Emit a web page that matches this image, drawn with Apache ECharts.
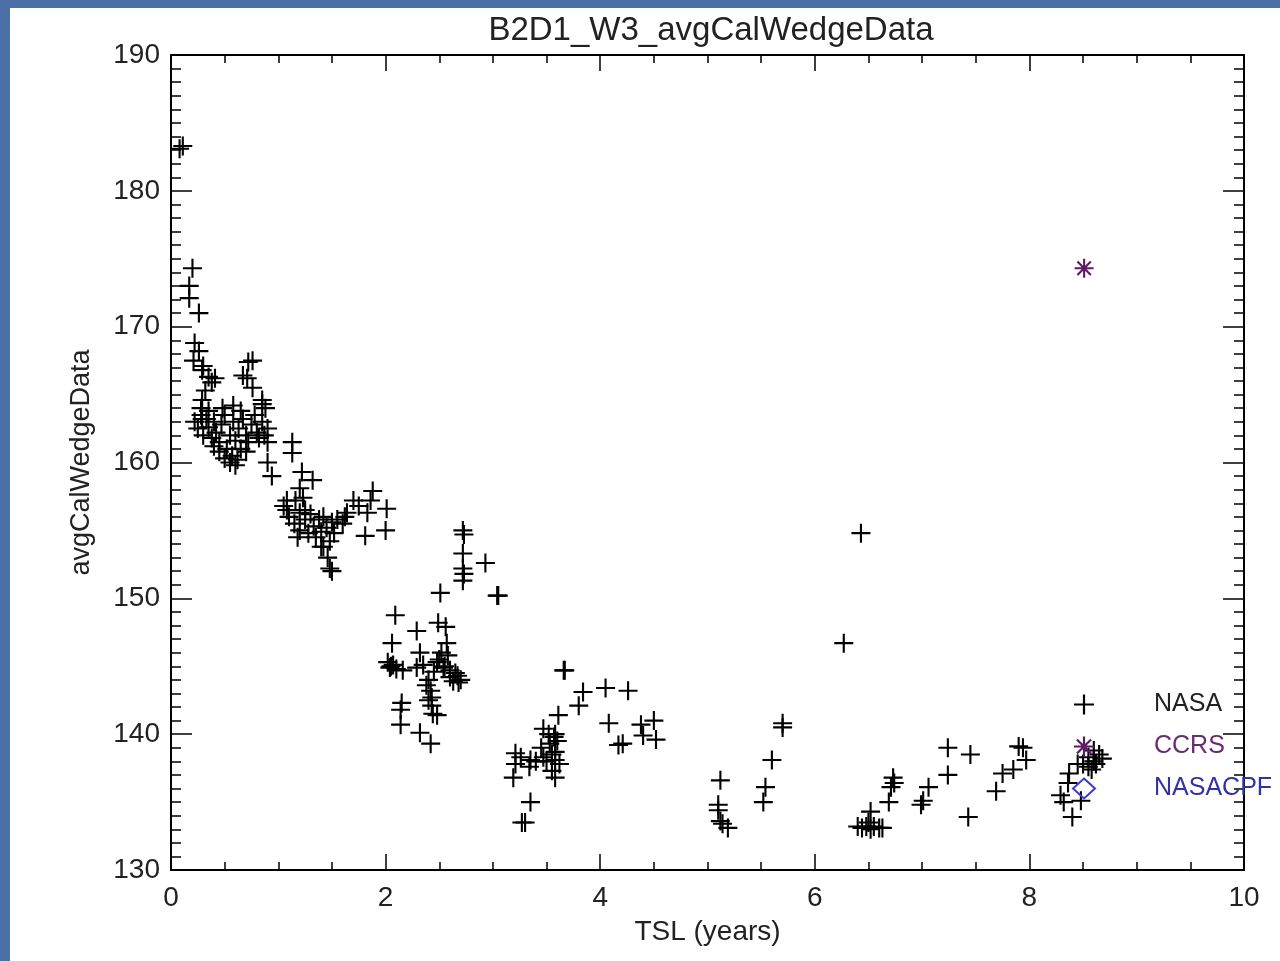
<!DOCTYPE html>
<html>
<head>
<meta charset="utf-8">
<script src="https://cdn.jsdelivr.net/npm/echarts@6/dist/echarts.min.js"></script>
<style>
  html, body { margin: 0; padding: 0; background: #4b6fa6; }
  #chart { width: 1280px; height: 961px; }
</style>
</head>
<body>
<div id="chart"></div>
<script>
// ---- data (TSL years, avgCalWedgeData) ----
const chartTitle = 'B2D1_W3_avgCalWedgeData';
const xName = 'TSL (years)';
const yName = 'avgCalWedgeData';
const xTicks = [0, 2, 4, 6, 8, 10];
const yTicks = [130, 140, 150, 160, 170, 180, 190];
const seriesNames = ['NASA', 'CCRS', 'NASACPF'];

const nasaEarly = [
  [0.08,183.1],[0.11,183.3],[0.20,174.3],[0.17,173.0],[0.17,172.1],[0.26,171.0],
  [0.22,168.8],[0.26,168.2],[0.21,167.5],[0.30,167.1],[0.35,166.3],[0.41,166.2],
  [0.29,166.8],[0.38,165.9],[0.32,165.3],[0.29,164.6],[0.72,167.4],[0.76,167.5],
  [0.67,166.4],[0.71,166.2],[0.76,165.5],[0.85,164.6],[0.88,164.0],[0.85,164.3],
  [0.29,163.2],[0.90,160.0],[0.94,159.0],
  [0.22,163.0],[0.25,162.5],[0.28,163.5],[0.30,162.0],[0.33,163.2],[0.35,162.6],
  [0.38,161.8],[0.40,163.0],[0.42,162.2],[0.45,161.5],[0.47,162.8],[0.50,163.5],
  [0.52,161.0],[0.55,162.0],[0.57,160.5],[0.58,163.0],[0.60,161.6],[0.62,160.2],
  [0.63,162.5],[0.65,161.0],[0.67,163.2],[0.70,162.0],[0.72,161.5],[0.75,162.8],
  [0.78,163.5],[0.80,162.2],[0.82,161.8],[0.85,163.0],[0.87,162.0],[0.90,162.5],
  [0.90,161.5],[0.55,160.0],[0.60,159.8],[0.50,160.3],[0.45,160.8],[0.35,163.8],
  [0.28,164.0],[0.48,164.0],[0.58,164.2],[0.65,163.8],[0.70,160.8],[0.40,161.2]
];
const nasaYear1 = [
  [1.13,161.5],[1.13,160.7],[1.22,159.3],[1.32,158.7],[1.20,158.1],[1.08,157.2],
  [1.16,157.2],[1.23,157.4],[1.08,156.5],[1.20,156.3],[1.05,156.8],[1.10,156.0],
  [1.15,155.5],[1.20,155.0],[1.25,155.8],[1.28,154.8],[1.30,156.2],[1.33,155.3],
  [1.35,154.5],[1.38,155.8],[1.40,154.9],[1.42,156.0],[1.45,155.2],[1.48,154.2],
  [1.50,155.6],[1.52,154.8],[1.55,155.8],[1.18,154.5],[1.25,156.5],[1.40,153.8],
  [1.42,153.8],[1.46,153.0],[1.50,152.0],[1.48,152.2],[1.88,157.9],[1.86,157.2],
  [1.70,157.2],[2.01,156.6],[1.83,156.3],[1.81,154.6],[2.00,155.0],[1.64,156.3],
  [1.60,155.5],[1.75,156.8],[1.62,156.0]
];
const nasaYear2 = [
  [2.09,148.75],[2.06,146.7],[2.29,147.6],[2.49,148.2],[2.56,147.9],[2.57,146.7],
  [2.32,146.0],[2.51,150.4],[2.02,145.3],[2.07,145.1],[2.04,144.9],[2.16,144.7],
  [2.29,144.9],[2.35,145.1],[2.48,145.3],[2.54,144.9],[2.60,144.7],[2.67,144.3],
  [2.68,143.8],[2.40,144.0],[2.42,143.2],[2.43,142.7],[2.43,142.1],[2.15,142.3],
  [2.14,141.8],[2.48,141.4],[2.14,140.7],[2.32,140.1],[2.42,139.3],[2.05,145.0],
  [2.10,144.8],[2.45,144.6],[2.50,145.5],[2.55,145.0],[2.60,144.2],[2.63,143.9],
  [2.65,144.5],[2.70,144.0],[2.38,143.6],[2.40,142.5],[2.44,141.5],[2.52,146.0],
  [2.58,145.8],
  [2.72,155.0],[2.73,154.7],[2.72,153.3],[2.93,152.6],[2.72,152.2],[2.72,151.3],
  [2.73,151.8],[3.04,150.2],[3.05,150.2]
];
const nasaYear3 = [
  [3.21,138.6],[3.26,138.3],[3.35,138.1],[3.34,137.6],[3.21,137.8],[3.19,136.8],
  [3.35,135.0],[3.27,133.5],[3.30,133.5],[3.47,140.4],[3.58,140.0],[3.53,139.3],
  [3.58,138.7],[3.47,138.3],[3.58,138.1],[3.55,137.3],[3.58,136.8],[3.61,141.4],
  [3.80,142.1],[3.66,144.7],[3.67,144.7],[3.84,143.1],[4.05,143.4],[4.26,143.2],
  [4.08,140.8],[4.38,140.7],[4.50,141.0],[4.52,139.6],[4.17,139.2],[4.21,139.3],
  [4.40,139.9],[3.45,139.0],[3.50,138.0],[3.55,138.5],[3.60,139.5],[3.62,137.8],
  [3.57,139.8],[3.52,140.0],[3.40,138.0]
];
const nasaYear5 = [
  [5.12,136.6],[5.10,134.8],[5.10,134.4],[5.12,133.6],[5.14,133.4],[5.19,133.1],
  [5.54,136.1],[5.52,135.0],[5.60,138.1],[5.70,140.5],[5.70,140.8],
  [6.43,154.8],[6.27,146.7]
];
const nasaYear6 = [
  [6.40,133.2],[6.44,133.1],[6.48,133.2],[6.52,133.0],[6.55,133.2],[6.60,133.1],
  [6.63,133.1],[6.52,134.3],[6.50,133.5],[6.73,136.8],[6.74,136.4],[6.71,136.1],
  [6.69,135.0],[7.01,135.1],[7.06,136.1],[6.99,134.8],[7.24,139.0],[7.24,137.0],
  [7.45,138.5],[7.43,133.9]
];
const nasaYear8 = [
  [7.90,139.1],[7.94,139.0],[7.97,138.1],[7.85,137.4],[7.75,137.1],[7.69,135.8],
  [8.37,137.1],[8.36,136.4],[8.29,135.5],[8.32,135.0],[8.40,133.9],[8.48,135.1],
  [8.45,137.8],[8.50,137.8],[8.55,138.3],[8.60,138.8],[8.62,137.8],[8.58,137.4],
  [8.65,138.5],[8.55,137.6],[8.68,138.2],[8.60,138.0]
];
const ccrsPoints = [[8.51,174.3]];
const nasacpfPoints = [];

const nasaPoints = [].concat(nasaEarly, nasaYear1, nasaYear2, nasaYear3, nasaYear5, nasaYear6, nasaYear8);

// ---- symbols ----
const plusPath = 'path://M-1,-9 L1,-9 L1,-1 L9,-1 L9,1 L1,1 L1,9 L-1,9 L-1,1 L-9,1 L-9,-1 L-1,-1 Z';
const starPath = 'path://M-1,-9 L1,-9 L1,9 L-1,9 Z M-9,-1 L9,-1 L9,1 L-9,1 Z ' +
  'M-5.66,-7.07 L7.07,5.66 L5.66,7.07 L-7.07,-5.66 Z M-7.07,5.66 L5.66,-7.07 L7.07,-5.66 L-5.66,7.07 Z';

const FONT = 'Liberation Sans';
const chart = echarts.init(document.getElementById('chart'));

const commonAxis = {
  axisLine: { show: true, onZero: false, lineStyle: { color: '#000', width: 2 } },
  splitLine: { show: false }
};

const option = {
  animation: false,
  backgroundColor: '#4b6fa6',
  graphic: [{
    type: 'rect', z: -100, silent: true,
    shape: { x: 10, y: 8, width: 1270, height: 953 },
    style: { fill: '#ffffff' }
  }],
  title: {
    text: chartTitle, left: 706, top: 9, textAlign: 'center',
    textStyle: { fontFamily: FONT, fontSize: 33, fontWeight: 'normal', color: '#222' }
  },
  legend: {
    orient: 'vertical', left: 1067, top: 687,
    itemWidth: 22, itemHeight: 20, itemGap: 17,
    data: [
      { name: 'NASA', textStyle: { color: '#222' } },
      { name: 'CCRS', textStyle: { color: '#6a2a6e' } },
      { name: 'NASACPF', textStyle: { color: '#3232a8' } }
    ],
    textStyle: { fontFamily: FONT, fontSize: 25, padding: [0, 0, 0, 54] }
  },
  grid: { left: 171, right: 36, top: 55, bottom: 91, containLabel: false },
  xAxis: [
    Object.assign({}, commonAxis, {
      type: 'value', position: 'bottom', min: 0, max: 10, interval: 2,
      name: xName, nameLocation: 'middle', nameGap: 48,
      nameTextStyle: { fontFamily: FONT, fontSize: 28, color: '#222' },
      axisTick: { show: true, inside: true, length: 16, lineStyle: { color: '#000', width: 1.5 } },
      minorTick: { show: true, splitNumber: 4, length: 8, lineStyle: { color: '#000', width: 1.5 } },
      axisLabel: { fontFamily: FONT, fontSize: 28, color: '#222', margin: 14,
        formatter: v => (xTicks.indexOf(v) >= 0 ? String(v) : '') }
    }),
    Object.assign({}, commonAxis, {
      type: 'value', position: 'top', min: 0, max: 10, interval: 2,
      axisTick: { show: true, inside: true, length: 16, lineStyle: { color: '#000', width: 1.5 } },
      minorTick: { show: true, splitNumber: 4, length: 8, lineStyle: { color: '#000', width: 1.5 } },
      axisLabel: { show: false }
    })
  ],
  yAxis: [
    Object.assign({}, commonAxis, {
      type: 'value', position: 'left', min: 130, max: 190, interval: 10,
      name: yName, nameLocation: 'middle', nameGap: 76, nameRotate: 90,
      nameTextStyle: { fontFamily: FONT, fontSize: 27, color: '#222' },
      axisTick: { show: true, inside: true, length: 21, lineStyle: { color: '#000', width: 1.5 } },
      minorTick: { show: true, splitNumber: 10, length: 10, lineStyle: { color: '#000', width: 1.5 } },
      axisLabel: { fontFamily: FONT, fontSize: 28, color: '#222', margin: 11,
        formatter: v => (yTicks.indexOf(v) >= 0 ? String(v) : '') }
    }),
    Object.assign({}, commonAxis, {
      type: 'value', position: 'right', min: 130, max: 190, interval: 10,
      axisTick: { show: true, inside: true, length: 21, lineStyle: { color: '#000', width: 1.5 } },
      minorTick: { show: true, splitNumber: 10, length: 10, lineStyle: { color: '#000', width: 1.5 } },
      axisLabel: { show: false }
    })
  ],
  series: [
    {
      name: seriesNames[0], type: 'scatter', xAxisIndex: 0, yAxisIndex: 0,
      symbol: plusPath, symbolSize: 19,
      itemStyle: { color: '#000', opacity: 1 },
      data: nasaPoints
    },
    {
      name: seriesNames[1], type: 'scatter', xAxisIndex: 0, yAxisIndex: 0,
      symbol: starPath, symbolSize: 19,
      itemStyle: { color: '#5e1a66', opacity: 1 },
      data: ccrsPoints
    },
    {
      name: seriesNames[2], type: 'scatter', xAxisIndex: 0, yAxisIndex: 0,
      symbol: 'diamond', symbolSize: [15, 17],
      itemStyle: { color: 'rgba(255,255,255,0)', borderColor: '#3a3ad0', borderWidth: 1.5, opacity: 1 },
      data: nasacpfPoints
    }
  ]
};
chart.setOption(option);
</script>
</body>
</html>
